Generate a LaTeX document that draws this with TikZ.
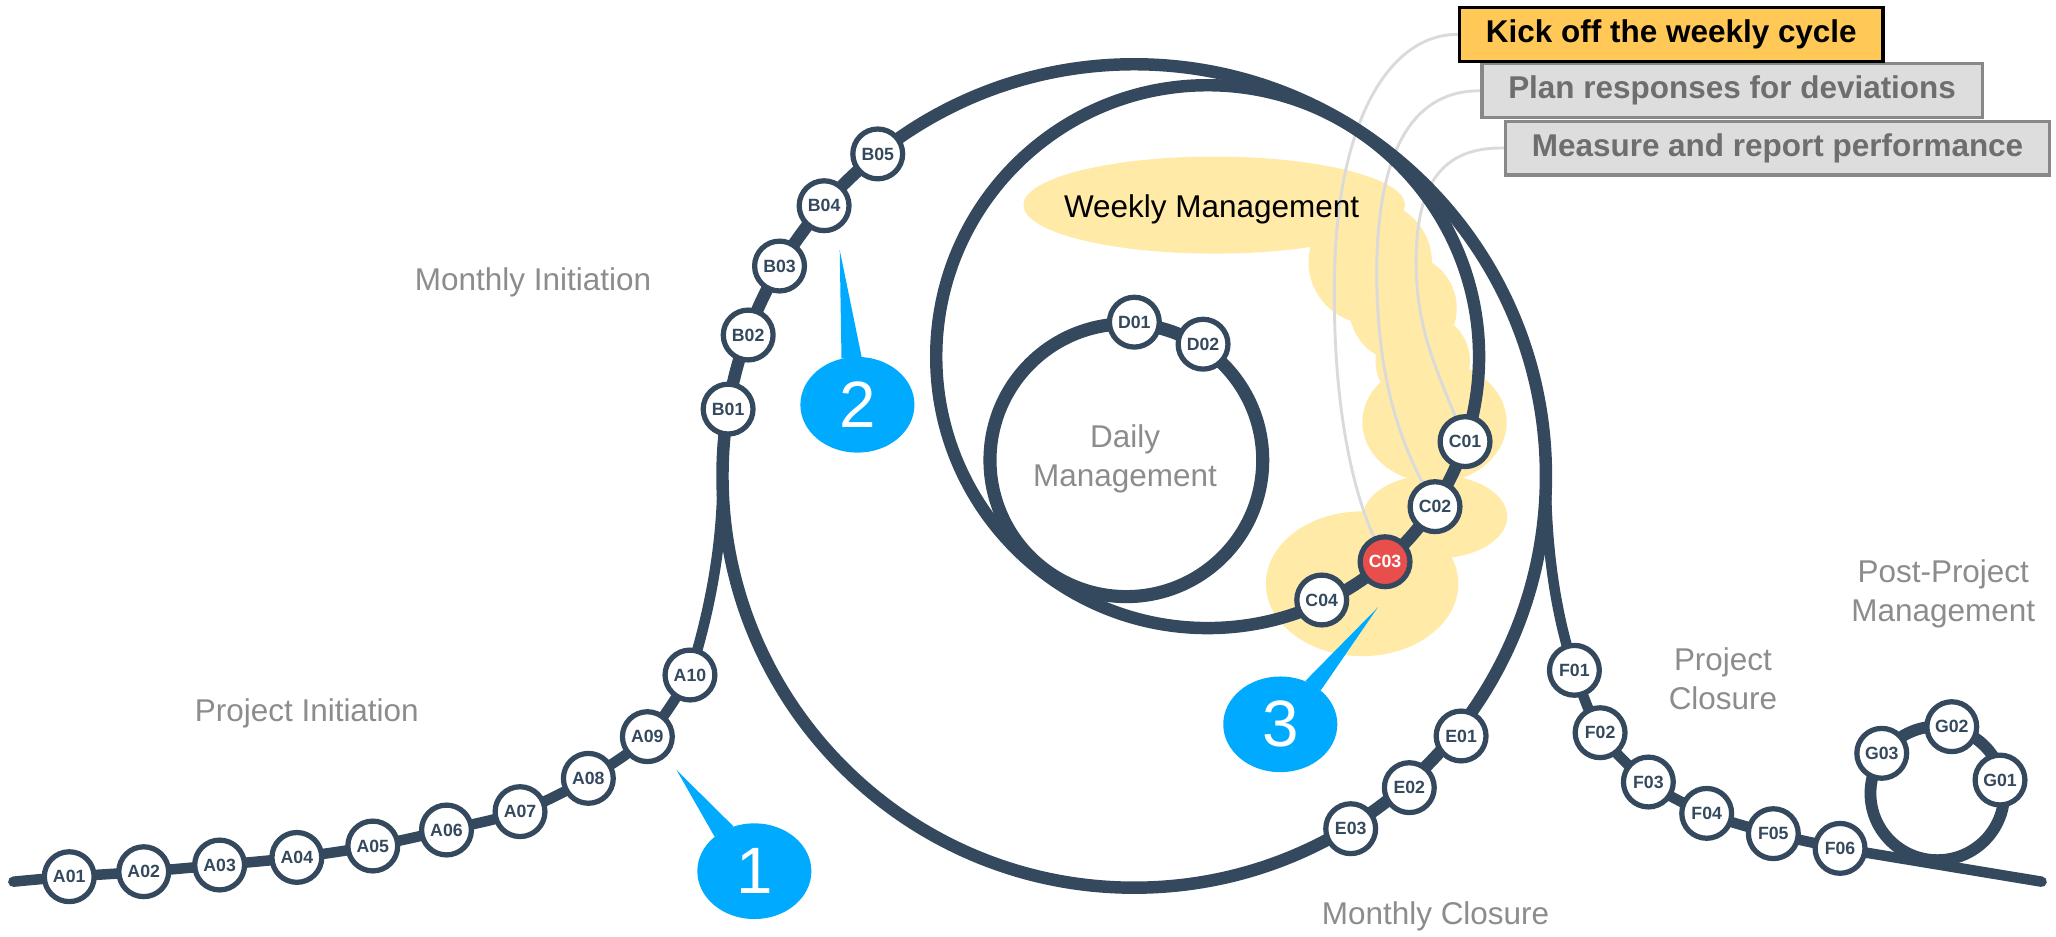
\documentclass[tikz,border=0pt]{standalone}
\usepackage{fontspec}
\setmainfont{Liberation Sans}
\usetikzlibrary{shapes.geometric}
\definecolor{navy}{RGB}{52,73,94}
\definecolor{lblgray}{RGB}{140,140,140}
\definecolor{blobyel}{RGB}{255,234,168}
\definecolor{cblue}{RGB}{0,170,255}
\definecolor{kickyel}{RGB}{255,200,87}
\definecolor{boxgray}{RGB}{221,221,221}
\definecolor{boxedge}{RGB}{136,136,136}
\definecolor{boxtext}{RGB}{110,110,110}
\definecolor{connline}{RGB}{218,218,218}
\definecolor{stopred}{RGB}{232,78,76}
\pgfdeclarelayer{blob}
\pgfdeclarelayer{conn}
\pgfdeclarelayer{tracks}
\pgfsetlayers{blob,conn,tracks,main}
\begin{document}
\begin{tikzpicture}[x=1pt,y=-1pt,
  track/.style={draw=navy,line width=9.5pt,line cap=round},
  thintrack/.style={draw=navy,line width=8pt,line cap=round},
  stn/.style={circle,draw=navy,line width=4pt,fill=white,minimum size=38pt,inner sep=0pt,text=navy,font=\fontsize{13.5}{14}\selectfont\bfseries},
  hot/.style={stn,fill=stopred,text=white},
  phase/.style={text=lblgray,font=\fontsize{24}{30}\selectfont,align=center},
  badge/.style={ellipse,fill=cblue,minimum width=87pt,minimum height=73pt,inner sep=0pt,text=white,font=\fontsize{50}{50}\selectfont},
  task/.style={anchor=west,line width=2.5pt,minimum height=41pt,inner xsep=20pt,font=\fontsize{24}{28}\selectfont\bfseries},
  link/.style={draw=connline,line width=2.2pt},
  blobfill/.style={fill=blobyel}]
\useasboundingbox (0,0) rectangle (1568,714);

% geometry anchors
\coordinate (oc) at (865,363);
\coordinate (ic) at (921,272);
\coordinate (dc) at (859,351);
\coordinate (gc) at (1477.5,605);
\coordinate (aStart) at (10.2,672.4);
\coordinate (jL) at (551,363);
\coordinate (jR) at (1179,363);
\coordinate (fEnd) at (1557,672.4);

% stations
\node[stn] (A01) at (52.8,668.6) {A01};
\node[stn] (A02) at (109.6,664.8) {A02};
\node[stn] (A03) at (167.5,659.7) {A03};
\node[stn] (A04) at (226.4,653.9) {A04};
\node[stn] (A05) at (284.3,645.2) {A05};
\node[stn] (A06) at (340.5,633) {A06};
\node[stn] (A07) at (396.6,619) {A07};
\node[stn] (A08) at (448.7,593.6) {A08};
\node[stn] (A09) at (493.7,561.8) {A09};
\node[stn] (A10) at (526.2,514.8) {A10};
\node[stn] (B01) at (555.3,312) {B01};
\node[stn] (B02) at (570.6,255.5) {B02};
\node[stn] (B03) at (594.5,202.9) {B03};
\node[stn] (B04) at (628.5,156.9) {B04};
\node[stn] (B05) at (669.4,117.4) {B05};
\node[stn] (C01) at (1117.3,336.8) {C01};
\node[stn] (C02) at (1094.4,386.4) {C02};
\node[hot] (C03) at (1056.3,428.4) {C03};
\node[stn] (C04) at (1008,457.6) {C04};
\node[stn] (D01) at (865.1,245.7) {D01};
\node[stn] (D02) at (917.5,262.5) {D02};
\node[stn] (E01) at (1114.3,561.3) {E01};
\node[stn] (E02) at (1074.8,600.7) {E02};
\node[stn] (E03) at (1030.1,632) {E03};
\node[stn] (F01) at (1200.7,511.2) {F01};
\node[stn] (F02) at (1220.3,558.8) {F02};
\node[stn] (F03) at (1257.1,596.4) {F03};
\node[stn] (F04) at (1301.6,620.3) {F04};
\node[stn] (F05) at (1352.4,635.8) {F05};
\node[stn] (F06) at (1403.3,647) {F06};
\node[stn] (G01) at (1525.3,594.9) {G01};
\node[stn] (G02) at (1488.5,554.2) {G02};
\node[stn] (G03) at (1435.1,574.5) {G03};

% tracks
\begin{pgfonlayer}{tracks}
\draw[track] (oc) circle [radius=314pt];
\draw[track] (ic) circle [radius=207pt];
\draw[track,line width=10pt] (dc) circle [radius=104pt];
\draw[track,line width=9pt] (gc) circle [radius=51pt];
\draw[thintrack] plot[smooth,tension=0.55] coordinates {(aStart) (A01.center) (A02.center) (A03.center) (A04.center) (A05.center) (A06.center) (A07.center) (A08.center) (A09.center) (A10.center)};
\draw[thintrack] (A10.center) .. controls (540,470) and (551,420) .. (jL);
\draw[thintrack] (jR) .. controls (1179,430) and (1190,480) .. (F01.center);
\draw[thintrack] plot[smooth,tension=0.55] coordinates {(F01.center) (F02.center) (F03.center) (F04.center) (F05.center) (F06.center)};
\draw[thintrack] (F06.center) -- (fEnd);
\end{pgfonlayer}

% yellow highlight
\begin{pgfonlayer}{blob}
\fill[blobfill] (926,156.4) ellipse [x radius=145.5pt, y radius=37pt];
\fill[blobfill] (1045,200) circle [radius=47pt];
\fill[blobfill] (1070,235) circle [radius=41pt];
\fill[blobfill] (1085,275) circle [radius=36pt];
\fill[blobfill] (1094,322) ellipse [x radius=55pt, y radius=46pt];
\fill[blobfill] (1094.5,394) ellipse [x radius=55pt, y radius=32pt];
\fill[blobfill] (1038.8,445.2) ellipse [x radius=73.4pt, y radius=55.2pt];
\end{pgfonlayer}
\node[font=\fontsize{24}{28}\selectfont,text=black] (wm) at (924,160) {Weekly Management};

% task boxes
\node[task,fill=boxgray,draw=boxedge,text=boxtext] (meas) at (1147,112.9) {Measure and report performance};
\node[task,fill=boxgray,draw=boxedge,text=boxtext] (plan) at (1129,69.2) {Plan responses for deviations};
\node[task,fill=kickyel,draw=black,text=black] (kick) at (1112,26.2) {Kick off the weekly cycle};

\begin{pgfonlayer}{conn}
\draw[link] (kick.west) .. controls (1060,26) and (1022,90) .. (1018,200) .. controls (1015,300) and (1030,370) .. (C03);
\draw[link] (plan.west) .. controls (1080,69) and (1052,110) .. (1050,200) .. controls (1049,280) and (1065,330) .. (C02);
\draw[link] (meas.west) .. controls (1100,112) and (1080,140) .. (1080,200) .. controls (1080,250) and (1095,280) .. (C01);
\end{pgfonlayer}

% phase labels
\node[phase] (lMI) at (406.5,215) {Monthly Initiation};
\node[phase] (lPI) at (234,544) {Project Initiation};
\node[phase] (lDM) at (858,350) {Daily\\Management};
\node[phase] (lMC) at (1094.8,698.6) {Monthly Closure};
\node[phase] (lPC) at (1314,517.5) {Project\\Closure};
\node[phase] (lPP) at (1482,453) {Post-Project\\Management};

% numbered callouts
\node[badge] (n1) at (575.3,664.4) {1};
\coordinate (t1) at (516,587.3);
\fill[cblue] (t1) -- (n1.139) -- (n1.115) -- cycle;
\node[badge] (n2) at (653.9,308.7) {2};
\coordinate (t2) at (640.4,190.7);
\fill[cblue] (t2) -- (n2.109) -- (n2.85) -- cycle;
\node[badge] (n3) at (976.4,552.4) {3};
\coordinate (t3) at (1050.8,463.2);
\fill[cblue] (t3) -- (n3.60) -- (n3.40) -- cycle;
\end{tikzpicture}
\end{document}
